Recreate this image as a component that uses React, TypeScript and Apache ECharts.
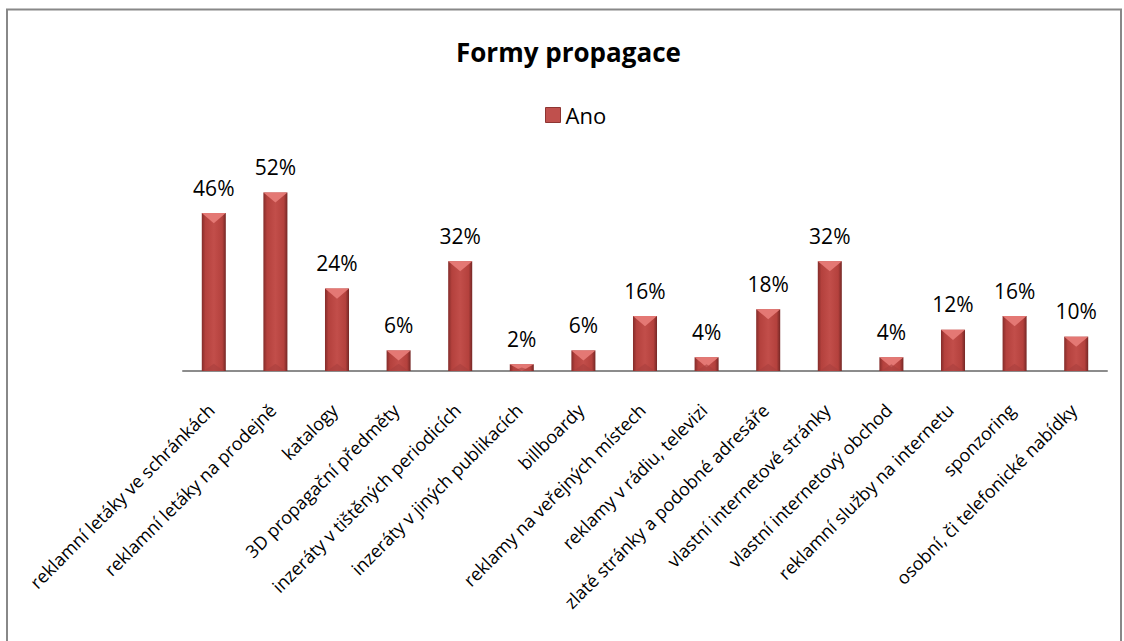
import React, { useEffect, useRef } from "react";
import * as echarts from "echarts";

const categories = [
  "reklamní letáky ve schránkách",
  "reklamní letáky na prodejně",
  "katalogy",
  "3D propagační předměty",
  "inzeráty v tištěných periodicích",
  "inzeráty v jiných publikacích",
  "billboardy",
  "reklamy na veřejných místech",
  "reklamy v rádiu, televizi",
  "zlaté stránky a podobné adresáře",
  "vlastní internetové stránky",
  "vlastní internetový obchod",
  "reklamní služby na internetu",
  "sponzoring",
  "osobní, či telefonické nabídky",
];
const values = [46, 52, 24, 6, 32, 2, 6, 16, 4, 18, 32, 4, 12, 16, 10];
const seriesName = "Ano";
const titleText = "Formy propagace";

const FONT = "'Open Sans', 'Noto Sans', sans-serif";

export default function App() {
  const ref = useRef<HTMLDivElement>(null);
  useEffect(() => {
    if (!ref.current) return;
    const chart = echarts.init(ref.current, null, { renderer: "svg" });
    chart.setOption({
      animation: false,
      backgroundColor: "#fff",
      title: {
        text: titleText,
        left: 451,
        top: 34,
        textStyle: { fontFamily: FONT, fontSize: 26, fontWeight: "bold", color: "#000" },
      },
      legend: {
        top: 99,
        left: 540,
        itemWidth: 15,
        itemHeight: 15,
        itemGap: 6,
        icon: "rect",
        textStyle: { fontFamily: FONT, fontSize: 22, color: "#000" },
        data: [{ name: seriesName, itemStyle: { color: "#C0504D", borderColor: "#8E3532", borderWidth: 1 } }],
      },
      graphic: [
        {
          type: "rect",
          shape: { x: 7, y: 9.5, width: 1114, height: 700 },
          style: { fill: "none", stroke: "#888", lineWidth: 2 },
          silent: true,
        },
      ],
      grid: { left: 183, right: 17, top: 165, bottom: 270 },
      xAxis: {
        type: "category",
        data: categories,
        axisTick: { show: false },
        axisLine: { lineStyle: { color: "#8c8c8c", width: 2 } },
        axisLabel: {
          interval: 0,
          rotate: 45,
          margin: 33,
          padding: [0, 4, 0, 0],
          fontFamily: FONT,
          fontSize: 18,
          color: "#000",
        },
      },
      yAxis: {
        type: "value",
        min: 0,
        max: 60,
        show: false,
        splitLine: { show: false },
      },
      series: [
        {
          name: seriesName,
          type: "custom",
          data: values,
          itemStyle: { color: "#C0504D" },
          renderItem: (params: any, api: any) => {
            const idx = api.value(0);
            const v = api.value(1);
            const top = api.coord([idx, v]);
            const base = api.coord([idx, 0]);
            const bw = api.size([1, 0])[0] * 0.39;
            const x0 = top[0] - bw / 2;
            const h = base[1] - top[1];
            const th = Math.min(h, bw * 0.42);
            const bh = Math.min(h / 2, bw * 0.3);
            return {
              type: "group",
              children: [
                {
                  type: "rect",
                  shape: { x: x0, y: top[1], width: bw, height: h },
                  style: {
                    fill: new echarts.graphic.LinearGradient(0, 0, 1, 0, [
                      { offset: 0, color: "#842C2A" },
                      { offset: 0.15, color: "#B4413D" },
                      { offset: 0.5, color: "#C24E4A" },
                      { offset: 0.85, color: "#B4413D" },
                      { offset: 1, color: "#742725" },
                    ]),
                  },
                },
                {
                  type: "polygon",
                  shape: {
                    points: [
                      [x0, top[1]],
                      [x0 + bw, top[1]],
                      [top[0], top[1] + th],
                    ],
                  },
                  style: { fill: "#E47874" },
                },
                {
                  type: "polygon",
                  shape: {
                    points: [
                      [x0 + 2, base[1]],
                      [x0 + bw - 2, base[1]],
                      [top[0], base[1] - bh],
                    ],
                  },
                  style: { fill: "#A8403D", opacity: 0.6 },
                },
                {
                  type: "text",
                  x: top[0],
                  y: top[1] - 15,
                  style: {
                    text: v + "%",
                    align: "center",
                    verticalAlign: "bottom",
                    fontFamily: FONT,
                    fontSize: 21,
                    fill: "#000",
                  },
                },
              ],
            };
          },
        },
      ],
    });
    return () => chart.dispose();
  }, []);
  return (
    <div
      ref={ref}
      style={{ position: "absolute", left: 0, top: 0, width: 1124, height: 641 }}
    />
  );
}
